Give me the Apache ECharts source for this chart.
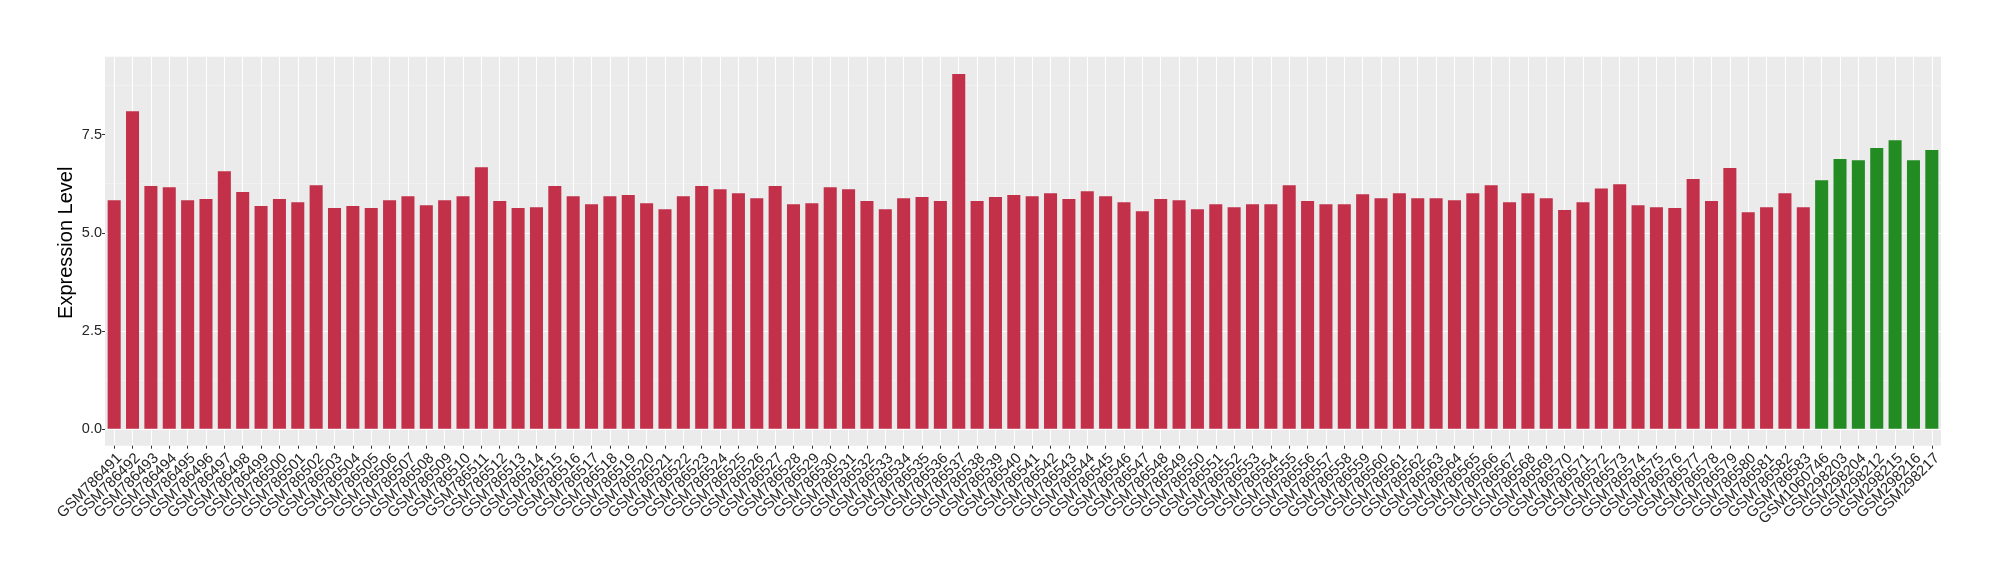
<!DOCTYPE html>
<html>
<head>
<meta charset="utf-8">
<script src="https://cdn.jsdelivr.net/npm/echarts@6/dist/echarts.min.js"></script>
<style>
  html, body { margin: 0; padding: 0; background: #fff; }
  #chart { width: 2000px; height: 580px; }
</style>
</head>
<body>
<div id="chart"></div>
<script>
// sample ids
const redIds = [];
for (let i = 786491; i <= 786583; i++) redIds.push("GSM" + i);
const greenIds = ["GSM1060746", "GSM298203", "GSM298204", "GSM298212", "GSM298215", "GSM298216", "GSM298217"];

// expression values
const redValues = [
  5.83, 8.10, 6.19, 6.16, 5.83, 5.86, 6.57, 6.04, 5.68, 5.86,
  5.78, 6.21, 5.63, 5.68, 5.63, 5.83, 5.93, 5.70, 5.83, 5.93,
  6.67, 5.81, 5.63, 5.65, 6.19, 5.93, 5.73, 5.93, 5.96, 5.75,
  5.60, 5.93, 6.19, 6.11, 6.01, 5.88, 6.19, 5.73, 5.75, 6.16,
  6.11, 5.81, 5.60, 5.88, 5.91, 5.81, 9.05, 5.81, 5.91, 5.96,
  5.93, 6.01, 5.86, 6.06, 5.93, 5.78, 5.55, 5.86, 5.83, 5.60,
  5.73, 5.65, 5.73, 5.73, 6.21, 5.81, 5.73, 5.73, 5.98, 5.88,
  6.01, 5.88, 5.88, 5.83, 6.01, 6.21, 5.78, 6.01, 5.88, 5.58,
  5.78, 6.13, 6.24, 5.70, 5.65, 5.63, 6.37, 5.81, 6.65, 5.52,
  5.65, 6.01, 5.65
];
const greenValues = [6.34, 6.88, 6.85, 7.16, 7.36, 6.85, 7.11];

// y axis ticks
const yTicks = [0, 2.5, 5, 7.5];

const RED = "#C3304A";
const GREEN = "#228B22";
const FONT = "Liberation Sans";

const categories = redIds.concat(greenIds);
const barData = redValues.map(v => ({ value: v, itemStyle: { color: RED } }))
  .concat(greenValues.map(v => ({ value: v, itemStyle: { color: GREEN } })));

const myChart = echarts.init(document.getElementById("chart"));
myChart.setOption({
  animation: false,
  grid: [
    {
      // panel (background, vertical grid, x labels)
      left: 105, right: 59, top: 56.7, bottom: 134.3,
      show: true, backgroundColor: "#EBEBEB", borderWidth: 0
    },
    {
      // data area, starts at 0
      left: 105, right: 59, top: 56.7, bottom: 151.2
    }
  ],
  xAxis: [
    {
      type: "category",
      gridIndex: 0,
      data: categories,
      axisLine: { show: false },
      axisTick: { show: true, alignWithLabel: true, length: 3, lineStyle: { color: "#333", width: 1 } },
      axisLabel: {
        interval: 0, rotate: 45, margin: 5, verticalAlign: "top",
        fontFamily: FONT, fontSize: 15, color: "#262626"
      },
      splitLine: { show: true, alignWithLabel: true, lineStyle: { color: "#fff", width: 1.1 } }
    },
    {
      type: "category",
      gridIndex: 1,
      data: categories,
      show: false
    }
  ],
  yAxis: [
    { type: "value", gridIndex: 0, min: 0, max: 1, show: false },
    {
      type: "value",
      gridIndex: 1,
      min: 0, max: 9.49, interval: 2.5,
      name: "Expression Level",
      nameLocation: "middle",
      nameGap: 29,
      nameMoveOverlap: false,
      nameTextStyle: { fontFamily: FONT, fontSize: 20, color: "#000" },
      axisLine: { show: false },
      axisTick: { show: true, length: 3, customValues: yTicks, lineStyle: { color: "#333", width: 1 } },
      axisLabel: {
        customValues: yTicks, margin: 3,
        fontFamily: FONT, fontSize: 14.5, color: "#262626",
        formatter: v => v.toFixed(1)
      },
      splitLine: { show: true, showMaxLine: false, lineStyle: { color: "#fff", width: 1.2 } },
      minorTick: { show: false, splitNumber: 2 },
      minorSplitLine: { show: true, lineStyle: { color: "#F5F5F5", width: 0.6 } }
    }
  ],
  series: [
    {
      type: "bar",
      xAxisIndex: 1,
      yAxisIndex: 1,
      barWidth: "71%",
      data: barData
    }
  ]
});
</script>
</body>
</html>
